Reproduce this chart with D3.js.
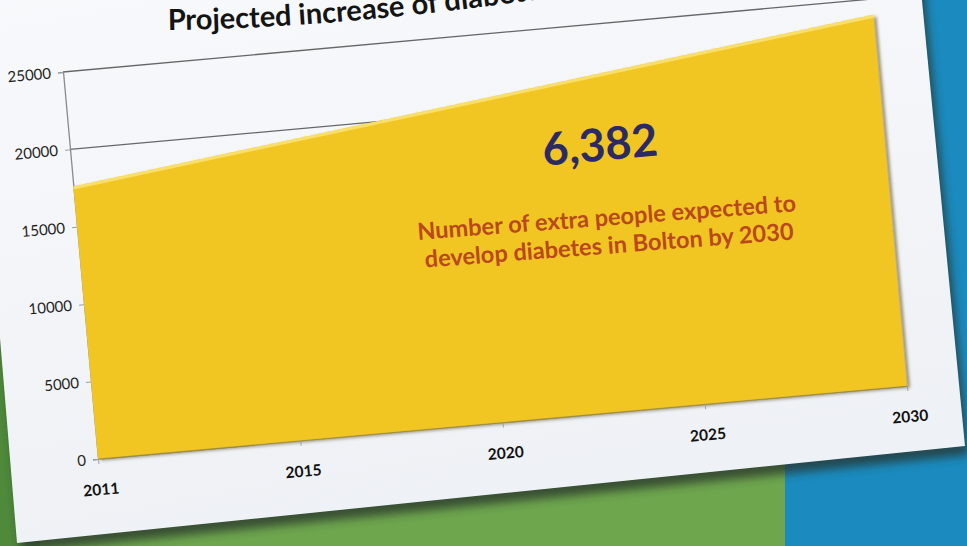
<!DOCTYPE html>
<html lang="en">
<head>
    <meta charset="UTF-8">
    <title>Projected increase of diabetes in Bolton</title>
    <script src="https://d3js.org/d3.v7.min.js"></script>
    <style>
        body{ margin:0; font-family: Lato, sans-serif; }
        svg{ display:block; }
    </style>
</head>
<body>
<svg width="967" height="546"></svg>
<script>
    // data
    const years = ["2011", "2015", "2020", "2025", "2030"];
    const cases = [17600, 19200, 20790, 22390, 23982];
    const yTicks = [0, 5000, 10000, 15000, 20000, 25000];
    const title = "Projected increase of diabetes in Bolton";
    const bigNumber = "6,382";
    const noteLines = ["Number of extra people expected to", "develop diabetes in Bolton by 2030"];

    const svg = d3.select("svg");
    const defs = svg.append("defs");

    defs.append("filter").attr("id", "paperShadow")
        .attr("x", "-10%").attr("y", "-10%").attr("width", "120%").attr("height", "130%")
        .append("feGaussianBlur").attr("stdDeviation", 5);

    const ds = defs.append("filter").attr("id", "areaShadow")
        .attr("x", "-5%").attr("y", "-5%").attr("width", "115%").attr("height", "115%");
    ds.append("feDropShadow").attr("dx", 3).attr("dy", 2).attr("stdDeviation", 1.5)
        .attr("flood-color", "#5a4a20").attr("flood-opacity", 0.55);

    const pg = defs.append("linearGradient").attr("id", "paperFill")
        .attr("x1", 0).attr("y1", 0).attr("x2", 0.3).attr("y2", 1);
    pg.append("stop").attr("offset", 0).attr("stop-color", "#f8f9fb");
    pg.append("stop").attr("offset", 1).attr("stop-color", "#eef1f5");

    // the photo bends the title upwards as it runs off the top edge
    defs.append("path").attr("id", "titleCurve")
        .attr("d", "M168,30 Q360,28 600,-10 L900,-90");

    //------------------------------------
    // background: green board, blue board, the paper
    svg.append("rect").attr("width", 967).attr("height", 546).attr("fill", "#6ea64e");
    svg.append("rect").attr("x", 0).attr("y", 0).attr("width", 40).attr("height", 546).attr("fill", "#4f8a3b");
    svg.append("rect").attr("x", 785).attr("y", 0).attr("width", 182).attr("height", 546).attr("fill", "#1b8bbf");

    const paper = [[-20, -20], [920, -20], [965, 446], [17, 543], [-20, 97]];
    svg.append("polygon")
        .attr("points", paper.map(p => [p[0] + 4, p[1] + 9].join(",")).join(" "))
        .attr("fill", "#27322c").attr("opacity", 0.75)
        .attr("filter", "url(#paperShadow)");
    svg.append("polygon")
        .attr("points", paper.map(p => p.join(",")).join(" "))
        .attr("fill", "url(#paperFill)");

    //------------------------------------
    // chart, drawn flat then tilted like the photo
    const W = 809, H = 387;
    const g = svg.append("g").attr("transform", "matrix(1,-0.0902,0.0904,1,63,72)");

    const x = d3.scalePoint().domain(years).range([0, W]);
    const y = d3.scaleLinear().domain([0, 25000]).range([H, 0]);

    g.append("g").selectAll("line").data(yTicks).join("line")
        .attr("x1", 0).attr("x2", W)
        .attr("y1", d => y(d)).attr("y2", d => y(d))
        .attr("stroke", "#676767").attr("stroke-width", 1.3);

    const yAxis = g.append("g")
        .call(d3.axisLeft(y).tickValues(yTicks).tickFormat(d3.format("d")).tickSize(5).tickPadding(7));
    yAxis.select(".domain").attr("stroke", "#8a8a8a").attr("stroke-width", 1.3);
    yAxis.selectAll(".tick line").attr("stroke", "#9aa0aa");
    yAxis.selectAll("text").attr("font-family", "Lato").attr("font-size", 15).attr("fill", "#1e1e1e");

    const area = d3.area()
        .x((d, i) => x(years[i]))
        .y0(y(0))
        .y1(d => y(d));
    g.append("path").datum(cases)
        .attr("d", area)
        .attr("fill", "#f2c624")
        .attr("filter", "url(#areaShadow)");
    g.append("path").datum(cases)
        .attr("d", d3.line().x((d, i) => x(years[i])).y(d => y(d) + 1.5))
        .attr("fill", "none").attr("stroke", "#f8df6a").attr("stroke-width", 3);

    const xAxis = g.append("g").attr("transform", `translate(0,${H})`)
        .call(d3.axisBottom(x).tickSize(5).tickPadding(20));
    xAxis.select(".domain").remove();
    xAxis.selectAll(".tick line").attr("stroke", "#9aa0aa");
    xAxis.selectAll("text").attr("font-family", "Lato").attr("font-weight", "bold")
        .attr("font-size", 15.5).attr("fill", "#111");

    //------------------------------------
    // annotation
    g.append("text").attr("x", 526).attr("y", 136)
        .attr("text-anchor", "middle").attr("font-family", "Lato").attr("font-weight", "bold")
        .attr("font-size", 45).attr("fill", "#2c2a66").text(bigNumber);
    g.selectAll(".note").data(noteLines).join("text").attr("class", "note")
        .attr("transform", (d, i) => `rotate(0.8,526,${201 + i * 28})`)
        .attr("x", 526).attr("y", (d, i) => 201 + i * 28)
        .attr("text-anchor", "middle").attr("font-family", "Lato").attr("font-weight", "bold")
        .attr("font-size", 23.5).attr("fill", "#b9481c").text(d => d);

    // title, cut by the top of the photo
    svg.append("text")
        .attr("font-family", "Lato").attr("font-weight", "bold")
        .attr("font-size", 29).attr("fill", "#141414")
        .append("textPath").attr("href", "#titleCurve").text(title);
</script>
</body>
</html>
